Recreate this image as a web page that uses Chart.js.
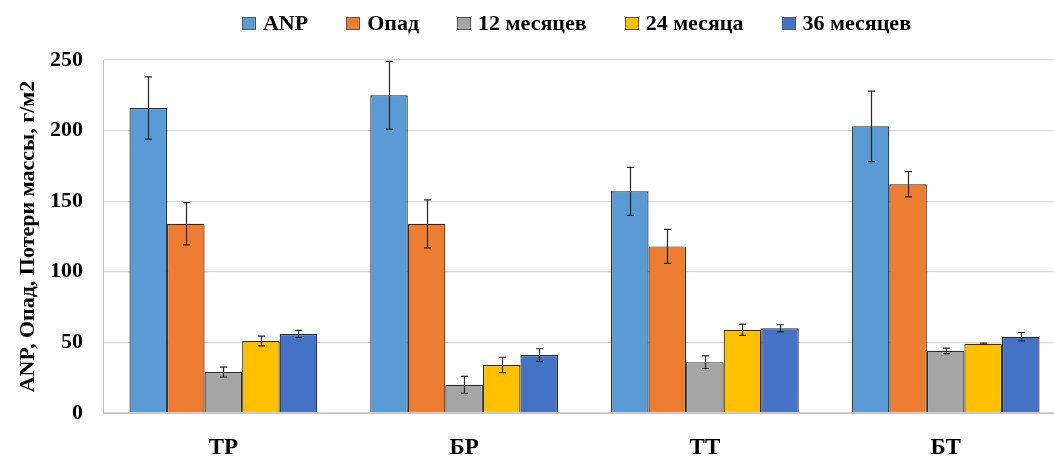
<!DOCTYPE html>
<html>
<head>
<meta charset="utf-8">
<script src="https://cdn.jsdelivr.net/npm/chart.js@4.4.0/dist/chart.umd.min.js"></script>
<style>
  html, body { margin: 0; padding: 0; background: #fff; overflow: hidden; }
  /* the original plot runs past the right edge of the picture, so the canvas is a bit wider */
  #wrap { position: relative; width: 1066px; height: 458px; }
  #legend {
    position: absolute; left: 103px; top: 11px; width: 947px; height: 24px;
    display: flex; justify-content: center; align-items: center; gap: 38px;
    font: bold 22px "Liberation Serif", "Times New Roman", serif; color: #000;
  }
  #legend .item { display: flex; align-items: center; white-space: nowrap; }
  #legend .box {
    width: 12px; height: 11px; margin-right: 7px; border: 1px solid #595959;
  }
</style>
</head>
<body>
<div id="wrap">
  <canvas id="chart"></canvas>
  <div id="legend"></div>
</div>
<script>
// Categories and series
const categories = ['ТР', 'БР', 'ТТ', 'БТ'];
const seriesNames = ['ANP', 'Опад', '12 месяцев', '24 месяца', '36 месяцев'];
const anp = [216, 225, 157, 203];
const opad = [134, 134, 118, 162];
const m12 = [29, 20, 36, 44];
const m24 = [51, 34, 59, 49];
const m36 = [56, 41, 60, 54];
// error bar half-widths
const anpErr = [22, 24, 17, 25];
const opadErr = [15, 17, 12, 9];
const m12Err = [3.5, 6, 4.5, 2];
const m24Err = [3.5, 5.5, 4, 0.5];
const m36Err = [2.5, 4.5, 2.5, 3];
const yTicks = [0, 50, 100, 150, 200, 250];

const colors = ['#5B9BD5', '#ED7D31', '#A5A5A5', '#FFC000', '#4472C4'];
const values = [anp, opad, m12, m24, m36];
const errors = [anpErr, opadErr, m12Err, m24Err, m36Err];

const FONT = '"Liberation Serif", "Times New Roman", serif';

// Legend as plain html above the canvas
document.getElementById('legend').innerHTML = seriesNames.map((name, i) => `
    <div class="item"><span class="box" style="background:${colors[i]}"></span>${name}</div>
`).join('');

// Draws whiskers for each bar from the errors arrays
const errorBars = {
    id: 'errorBars',
    afterDatasetsDraw(chart) {
        const ctx = chart.ctx;
        const y = chart.scales.y;
        ctx.save();
        ctx.strokeStyle = '#262626';
        ctx.lineWidth = 1.2;
        chart.data.datasets.forEach((ds, di) => {
            const meta = chart.getDatasetMeta(di);
            meta.data.forEach((bar, i) => {
                const v = ds.data[i];
                const e = ds.errors[i];
                const top = y.getPixelForValue(v + e);
                const bot = y.getPixelForValue(v - e);
                const x = Math.round(bar.x) + 0.5;
                ctx.beginPath();
                ctx.moveTo(x, top);
                ctx.lineTo(x, bot);
                ctx.moveTo(x - 3.5, top);
                ctx.lineTo(x + 3.5, top);
                ctx.moveTo(x - 3.5, bot);
                ctx.lineTo(x + 3.5, bot);
                ctx.stroke();
            });
        });
        ctx.restore();
    }
};

new Chart(document.getElementById('chart'), {
    type: 'bar',
    data: {
        labels: categories,
        datasets: seriesNames.map((name, i) => ({
            label: name,
            data: values[i],
            errors: errors[i],
            backgroundColor: colors[i],
            borderColor: '#2b2b2b',
            borderWidth: 1.2,
            borderSkipped: 'bottom'
        }))
    },
    options: {
        responsive: true,
        maintainAspectRatio: false,
        animation: false,
        layout: { padding: { left: 0, right: 0, top: 60, bottom: 0 } },
        datasets: {
            bar: { categoryPercentage: 0.78, barPercentage: 1 }
        },
        plugins: {
            tooltip: { enabled: false },
            legend: { display: false }
        },
        scales: {
            x: {
                grid: { display: false },
                border: { color: '#bfbfbf' },
                ticks: {
                    font: { family: FONT, size: 23, weight: 'bold' },
                    color: '#000',
                    padding: 13
                },
                afterFit(scale) { scale.height = 45; }
            },
            y: {
                min: 0,
                max: 250,
                afterBuildTicks(scale) {
                    scale.ticks = yTicks.map(v => ({ value: v }));
                },
                grid: { color: '#d9d9d9', lineWidth: 1.3, drawTicks: false },
                border: { color: '#bfbfbf' },
                ticks: {
                    font: { family: FONT, size: 22, weight: 'bold' },
                    color: '#000',
                    padding: 20
                },
                title: {
                    display: true,
                    text: 'ANP, Опад, Потери массы, г/м2',
                    font: { family: FONT, size: 22, weight: 'bold' },
                    color: '#000',
                    padding: { top: 15, bottom: 0 }
                },
                afterFit(scale) { scale.width = 103; }
            }
        }
    },
    plugins: [errorBars]
});
</script>
</body>
</html>
